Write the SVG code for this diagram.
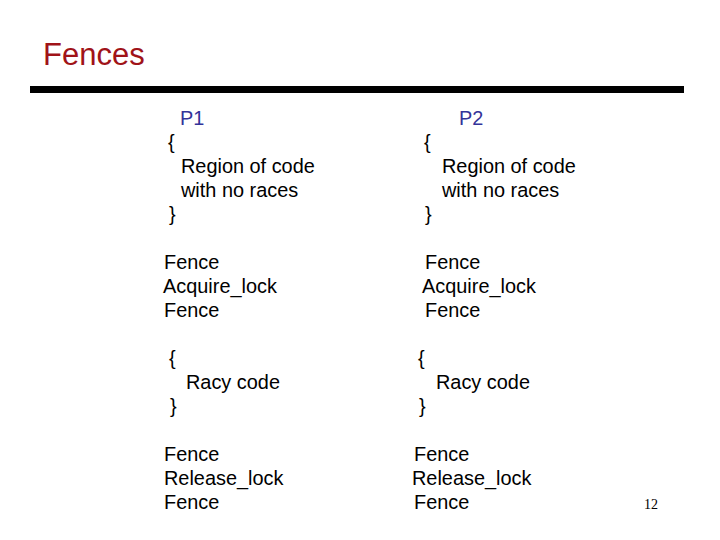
<svg xmlns="http://www.w3.org/2000/svg" width="720" height="540" viewBox="0 0 720 540">
<style>
.t{font-family:"Liberation Sans",Arial,sans-serif;font-size:19.9px;fill:#000}
.p{fill:#333399}
.title{font-family:"Liberation Sans",Arial,sans-serif;font-size:31px;fill:#A01318}
.num{font-family:"Liberation Serif","Times New Roman",serif;font-size:14px;fill:#000}
</style>
<rect width="720" height="540" fill="#fff"/>
<text class="title" x="43" y="65">Fences</text>
<rect x="30" y="86" width="654" height="7" fill="#000"/>
<g id="p1">
<text class="t p" x="180" y="125">P1</text>
<text class="t" x="168" y="149">{</text>
<text class="t" x="181" y="173">Region of code</text>
<text class="t" x="181" y="197">with no races</text>
<text class="t" x="169" y="221">}</text>
<text class="t" x="164" y="269">Fence</text>
<text class="t" x="163" y="293">Acquire_lock</text>
<text class="t" x="164" y="317">Fence</text>
<text class="t" x="169" y="365">{</text>
<text class="t" x="186" y="389">Racy code</text>
<text class="t" x="170" y="413">}</text>
<text class="t" x="164" y="461">Fence</text>
<text class="t" x="164" y="485">Release_lock</text>
<text class="t" x="164" y="509">Fence</text>
</g>
<g id="p2">
<text class="t p" x="459" y="125">P2</text>
<text class="t" x="424" y="149">{</text>
<text class="t" x="442" y="173">Region of code</text>
<text class="t" x="442" y="197">with no races</text>
<text class="t" x="425" y="221">}</text>
<text class="t" x="425" y="269">Fence</text>
<text class="t" x="422" y="293">Acquire_lock</text>
<text class="t" x="425" y="317">Fence</text>
<text class="t" x="418" y="365">{</text>
<text class="t" x="436" y="389">Racy code</text>
<text class="t" x="419" y="413">}</text>
<text class="t" x="414" y="461">Fence</text>
<text class="t" x="412" y="485">Release_lock</text>
<text class="t" x="414" y="509">Fence</text>
</g>
<text class="num" x="644" y="509">12</text>
</svg>
